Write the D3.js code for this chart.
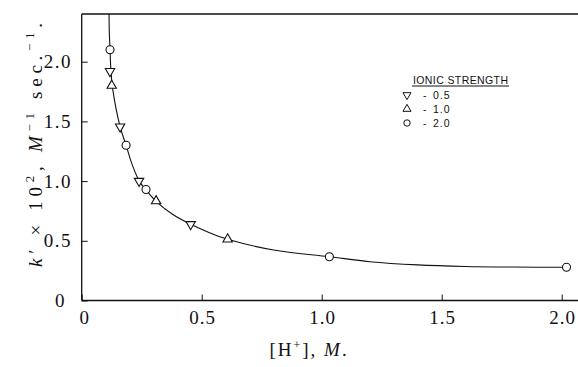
<!DOCTYPE html>
<html>
<head>
<meta charset="utf-8">
<script src="https://cdn.jsdelivr.net/npm/d3@7.9.0/dist/d3.min.js"></script>
<style>
  body { margin: 0; background: #fff; }
  svg { display: block; }
  .tick-label { font-family: "Liberation Serif", serif; font-size: 19px; fill: #111; }
  .legend text { font-family: "Liberation Sans", sans-serif; font-size: 10.5px; fill: #111; }
</style>
</head>
<body>
<svg id="chart" width="578" height="367"></svg>
<script>
// points, grouped by ionic strength
const down05X = [0.118, 0.160, 0.239, 0.454];
const down05Y = [1.92, 1.456, 1.00, 0.638];
const up10X = [0.125, 0.310, 0.608];
const up10Y = [1.80, 0.833, 0.513];
const circ20X = [0.118, 0.185, 0.268, 1.032, 2.02];
const circ20Y = [2.10, 1.30, 0.93, 0.367, 0.278];

// the drawn smooth curve
const curveX = [0.114, 0.115, 0.118, 0.122, 0.13, 0.16, 0.185, 0.21, 0.24, 0.27, 0.31, 0.38, 0.454, 0.53, 0.608, 0.8, 1.032, 1.2, 1.4, 1.6, 1.8, 2.02];
const curveY = [2.40, 2.25, 2.10, 1.92, 1.76, 1.456, 1.30, 1.14, 1.00, 0.92, 0.83, 0.72, 0.638, 0.57, 0.513, 0.423, 0.367, 0.325, 0.298, 0.285, 0.28, 0.278];

const xTicks = [0, 0.5, 1.0, 1.5, 2.0];
const yTicks = [0, 0.5, 1.0, 1.5, 2.0];
const legendLabels = ['0.5', '1.0', '2.0'];

const svg = d3.select('#chart');
const plotL = 81.7, plotR = 578, plotT = 14, plotB = 300.5;

let x = d3.scaleLinear().domain([0, 2]).range([plotL, 561.7]);
let y = d3.scaleLinear().domain([0, 2]).range([plotB, 61.7]);

// frame: left, top and bottom lines (no right edge)
svg.append('line').attr('x1', plotL).attr('x2', plotL).attr('y1', plotT).attr('y2', plotB)
  .attr('stroke', '#111').attr('stroke-width', 1.3);
svg.append('line').attr('x1', plotL).attr('x2', plotR).attr('y1', plotT).attr('y2', plotT)
  .attr('stroke', '#111').attr('stroke-width', 1.3);
svg.append('line').attr('x1', plotL).attr('x2', plotR).attr('y1', plotB).attr('y2', plotB)
  .attr('stroke', '#111').attr('stroke-width', 1.3);

// axes, ticks pointing inward
let xAxis = d3.axisTop(x).tickValues(xTicks).tickSize(6).tickFormat('');
svg.append('g').attr('transform', `translate(0,${plotB})`).call(xAxis)
  .call(g => g.select('.domain').remove())
  .call(g => g.selectAll('line').attr('stroke', '#111'));
let yAxis = d3.axisRight(y).tickValues(yTicks).tickSize(6).tickFormat('');
svg.append('g').attr('transform', `translate(${plotL},0)`).call(yAxis)
  .call(g => g.select('.domain').remove())
  .call(g => g.selectAll('line').attr('stroke', '#111'));

// tick labels
svg.selectAll('.xl').data(xTicks).join('text')
  .attr('class', 'tick-label')
  .attr('x', d => x(d) + (d === 0 ? 3 : 1))
  .attr('y', 324)
  .attr('text-anchor', 'middle')
  .attr('letter-spacing', 1)
  .text(d => d === 0 ? '0' : d.toFixed(1));
svg.selectAll('.yl').data(yTicks).join('text')
  .attr('class', 'tick-label')
  .attr('x', d => d === 0 ? 66 : 72)
  .attr('y', d => y(d) + 6.5)
  .attr('text-anchor', 'end')
  .attr('letter-spacing', 1.5)
  .text(d => d === 0 ? '0' : d.toFixed(1));

// axis titles
let xt = svg.append('text').attr('class', 'tick-label')
  .attr('x', 309).attr('y', 356).attr('text-anchor', 'middle')
  .attr('font-size', 19).attr('letter-spacing', 2);
xt.append('tspan').text('[H');
xt.append('tspan').attr('dy', -7).attr('font-size', 12).text('+');
xt.append('tspan').attr('dy', 7).text('], ');
xt.append('tspan').attr('font-style', 'italic').text('M');
xt.append('tspan').text('.');

let yt = svg.append('text').attr('class', 'tick-label')
  .attr('transform', 'translate(42,145) rotate(-90)')
  .attr('text-anchor', 'middle')
  .attr('font-size', 21).attr('textLength', 244).attr('lengthAdjust', 'spacing');
yt.append('tspan').attr('font-style', 'italic').text('k');
yt.append('tspan').text('\u2032 \u00d7 10');
yt.append('tspan').attr('dy', -8).attr('font-size', 13).text('2');
yt.append('tspan').attr('dy', 8).text(', ');
yt.append('tspan').attr('font-style', 'italic').text('M');
yt.append('tspan').attr('dy', -8).attr('font-size', 13).text('\u22121');
yt.append('tspan').attr('dy', 8).text(' sec.');
yt.append('tspan').attr('dy', -8).attr('font-size', 13).text('\u22121');
yt.append('tspan').attr('dy', 8).text('.');

// fitted curve
let curvePts = curveX.map((v, i) => [v, curveY[i]]);
svg.append('path').attr('d', d3.line().x(d => x(d[0])).y(d => y(d[1])).curve(d3.curveCatmullRom.alpha(0.5))(curvePts))
  .attr('fill', 'none').attr('stroke', '#111').attr('stroke-width', 1.1);

// markers
const triDown = d3.symbol().type(d3.symbolTriangle).size(38);
function drawSet(xs, ys, kind) {
  xs.forEach((v, i) => {
    let px = x(v), py = y(ys[i]);
    if (kind === 'circle') {
      svg.append('circle').attr('cx', px).attr('cy', py).attr('r', 4)
        .attr('fill', '#fff').attr('stroke', '#111').attr('stroke-width', 1.1);
    } else {
      svg.append('path').attr('d', triDown())
        .attr('transform', `translate(${px},${py}) rotate(${kind === 'down' ? 180 : 0})`)
        .attr('fill', '#fff').attr('stroke', '#111').attr('stroke-width', 1.1);
    }
  });
}
drawSet(down05X, down05Y, 'down');
drawSet(up10X, up10Y, 'up');
drawSet(circ20X, circ20Y, 'circle');

// legend
let legend = svg.append('g').attr('class', 'legend');
legend.append('text').attr('x', 413).attr('y', 84).attr('textLength', 95)
  .attr('lengthAdjust', 'spacing').text('IONIC STRENGTH');
legend.append('line').attr('x1', 412).attr('x2', 509).attr('y1', 86).attr('y2', 86)
  .attr('stroke', '#111').attr('stroke-width', 1);
const legendKinds = ['down', 'up', 'circle'];
const smallTri = d3.symbol().type(d3.symbolTriangle).size(28);
legendLabels.forEach((lab, i) => {
  let cy = 95 + i * 14;
  if (legendKinds[i] === 'circle') {
    legend.append('circle').attr('cx', 407).attr('cy', cy).attr('r', 3.2)
      .attr('fill', 'none').attr('stroke', '#111').attr('stroke-width', 1);
  } else {
    legend.append('path').attr('d', smallTri())
      .attr('transform', `translate(407,${cy}) rotate(${legendKinds[i] === 'down' ? 180 : 0})`)
      .attr('fill', 'none').attr('stroke', '#111').attr('stroke-width', 1);
  }
  legend.append('text').attr('x', 423).attr('y', cy + 4).text('-');
  legend.append('text').attr('x', 433).attr('y', cy + 4).attr('letter-spacing', 1).text(lab);
});
</script>
</body>
</html>
